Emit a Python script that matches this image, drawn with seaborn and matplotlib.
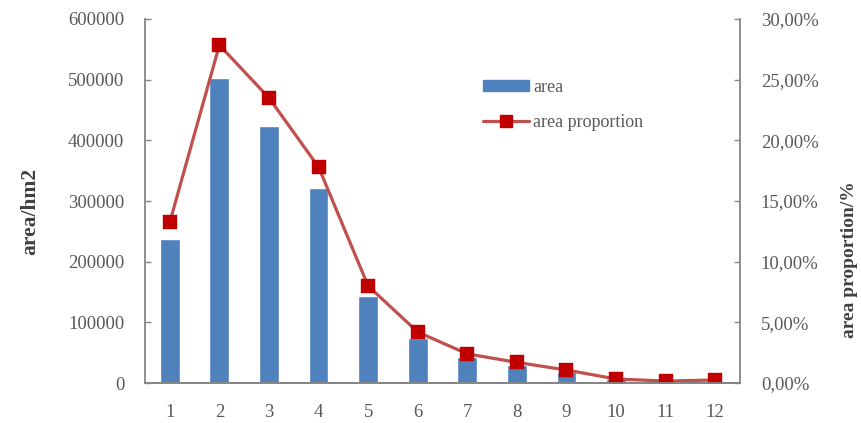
import numpy as np
import pandas as pd
import matplotlib
matplotlib.use("Agg")
import matplotlib.pyplot as plt
import seaborn as sns
from matplotlib.ticker import FuncFormatter, MultipleLocator
from matplotlib.patches import Patch
from matplotlib.lines import Line2D

categories = ["1", "2", "3", "4", "5", "6", "7", "8", "9", "10", "11", "12"]
area = [237000, 502000, 423500, 321500, 143500, 74500, 43000, 30000, 18500, 6000, 2000, 4000]
area_proportion = [13.25, 27.85, 23.5, 17.8, 8.0, 4.2, 2.4, 1.7, 1.07, 0.33, 0.16, 0.25]

df = pd.DataFrame({"category": categories, "area": area, "proportion": area_proportion})

sns.set_theme(style="white")
plt.rcParams["font.family"] = ["Liberation Serif", "DejaVu Serif"]

fig = plt.figure(figsize=(8.61, 4.23), dpi=100)
ax = fig.add_axes([145/861, 1-383/423, (740-145)/861, (383-19)/423])

bar_color = "#4F81BD"
line_color = "#C0504D"
marker_color = "#C00000"
gray = "#595959"
spine_gray = "#868686"

sns.barplot(data=df, x="category", y="area", color=bar_color, width=0.4,
            saturation=1, ax=ax, order=categories)
ax.set_ylim(0, 600000)
ax.set_xlim(-0.5, 11.5)
ax.yaxis.set_major_locator(MultipleLocator(100000))

ax2 = ax.twinx()
sns.pointplot(data=df, x="category", y="proportion", order=categories,
              color=line_color, markers="s", linestyles="-", ax=ax2,
              markersize=8.5, linewidth=2.3, markeredgecolor=marker_color,
              markerfacecolor=marker_color)
for ln in ax2.lines:
    ln.set_markerfacecolor(marker_color)
    ln.set_markeredgecolor(marker_color)
ax2.set_ylim(0, 30)
ax2.set_xlim(-0.5, 11.5)
ax2.yaxis.set_major_locator(MultipleLocator(5))
ax2.yaxis.set_major_formatter(FuncFormatter(lambda v, p: f"{v:.2f}%".replace(".", ",")))

for a in (ax, ax2):
    a.spines["top"].set_visible(False)
    for s in ("left", "right", "bottom"):
        a.spines[s].set_color(spine_gray)
        a.spines[s].set_linewidth(1.3)
    a.tick_params(axis="y", direction="in", length=4, width=1, color=spine_gray,
                  labelsize=13.5, labelcolor=gray, pad=15)
    a.tick_params(axis="x", length=0, labelsize=13.5, labelcolor=gray, pad=15)

ax.tick_params(axis="y", left=True, right=False)
ax2.tick_params(axis="y", left=False, right=True)
ax2.spines["left"].set_visible(False)
ax.spines["right"].set_visible(False)

ax.set_xlabel("")
ax.set_ylabel("area/hm2", fontsize=15.5, fontweight="bold", color="#404040")
ax.yaxis.set_label_coords(-0.176, 0.47)
ax2.set_ylabel("area proportion/%", fontsize=14, fontweight="bold", color="#404040")
ax2.yaxis.set_label_coords(1.17, 0.34)

handles = [Patch(facecolor=bar_color, edgecolor=bar_color),
           Line2D([0], [0], color=line_color, linewidth=2.3, marker="s",
                  markersize=8.5, markerfacecolor=marker_color, markeredgecolor=marker_color)]
ax2.legend(handles, ["area", "area proportion"], loc="upper left",
           bbox_to_anchor=(0.54, 0.88), frameon=False, fontsize=13,
           handlelength=2.6, handleheight=0.5, labelspacing=1.0, handletextpad=0.2,
           labelcolor=gray)

fig.savefig("out.png", dpi=100)
